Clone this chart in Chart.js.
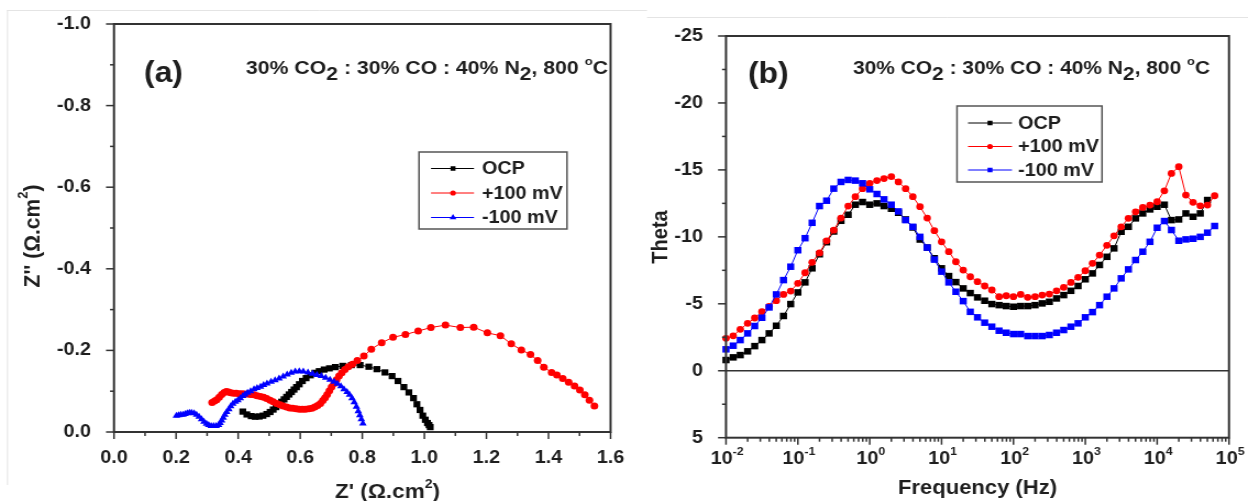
<!DOCTYPE html>
<html>
<head>
<meta charset="utf-8">
<title>Impedance at 800 C</title>
<script src="https://cdn.jsdelivr.net/npm/chart.js@4.4.1/dist/chart.umd.min.js"></script>
<style>
  html, body { margin: 0; padding: 0; background: #fff; overflow: hidden; }
  #wrap { position: relative; width: 1248px; height: 501px; }
  #wrap canvas { position: absolute; top: 0; }
</style>
</head>
<body>
<div id="wrap">
  <canvas id="nyquist" width="575" height="501" style="left:0;width:632px;height:501px"></canvas>
  <canvas id="bode" width="560" height="501" style="left:632px;width:616px;height:501px"></canvas>
</div>
<script>
// ---- panel (a): Nyquist, Z' and Z'' in ohm.cm2 ----
const nyqOcpRe = [0.415, 0.428, 0.442, 0.455, 0.468, 0.48, 0.492, 0.503, 0.513, 0.522,
  0.531, 0.54, 0.548, 0.556, 0.564, 0.572, 0.58, 0.588, 0.597, 0.607,
  0.619, 0.633, 0.647, 0.661, 0.677, 0.694, 0.713, 0.737, 0.765, 0.793,
  0.821, 0.847, 0.873, 0.896, 0.915, 0.934, 0.95, 0.965, 0.976, 0.986,
  0.995, 1.003, 1.01, 1.015, 1.019];
const nyqOcpIm = [-0.05, -0.043, -0.039, -0.0375, -0.038, -0.04, -0.044, -0.049, -0.055, -0.061,
  -0.068, -0.074, -0.08, -0.086, -0.092, -0.098, -0.104, -0.11, -0.117, -0.125,
  -0.132, -0.139, -0.145, -0.149, -0.153, -0.156, -0.159, -0.162, -0.164, -0.164,
  -0.16, -0.154, -0.146, -0.137, -0.125, -0.11, -0.097, -0.083, -0.068, -0.054,
  -0.04, -0.03, -0.022, -0.017, -0.012];

const nyqPosRe = [0.316, 0.324, 0.331, 0.339, 0.347, 0.355, 0.362, 0.369, 0.376, 0.385,
  0.394, 0.403, 0.412, 0.42, 0.43, 0.44, 0.451, 0.461, 0.472, 0.482,
  0.492, 0.503, 0.513, 0.524, 0.535, 0.545, 0.556, 0.566, 0.576, 0.587,
  0.597, 0.607, 0.617, 0.628, 0.638, 0.647, 0.656, 0.665, 0.673, 0.68,
  0.687, 0.694, 0.701, 0.709, 0.717, 0.725, 0.734, 0.744, 0.755, 0.768,
  0.784, 0.805, 0.829, 0.8625, 0.899, 0.939, 0.98, 1.021, 1.068, 1.116,
  1.159, 1.203, 1.245, 1.28, 1.3125, 1.342, 1.365, 1.385, 1.41, 1.427,
  1.446, 1.465, 1.484, 1.501, 1.517, 1.532, 1.548];
const nyqPosIm = [-0.072, -0.076, -0.079, -0.085, -0.092, -0.097, -0.099, -0.098, -0.096, -0.095,
  -0.095, -0.094, -0.094, -0.093, -0.093, -0.092, -0.091, -0.089, -0.087, -0.085,
  -0.082, -0.078, -0.074, -0.07, -0.067, -0.064, -0.061, -0.059, -0.058, -0.057,
  -0.056, -0.056, -0.056, -0.057, -0.058, -0.061, -0.065, -0.07, -0.077, -0.084,
  -0.092, -0.101, -0.11, -0.119, -0.128, -0.137, -0.145, -0.153, -0.16, -0.166,
  -0.175, -0.186, -0.203, -0.219, -0.232, -0.239, -0.2475, -0.256, -0.262, -0.256,
  -0.257, -0.243, -0.236, -0.216, -0.201, -0.19, -0.175, -0.159, -0.146, -0.14,
  -0.131, -0.122, -0.113, -0.103, -0.091, -0.078, -0.064];

const nyqNegRe = [0.201, 0.208, 0.215, 0.222, 0.229, 0.236, 0.243, 0.25, 0.258, 0.266,
  0.274, 0.282, 0.29, 0.298, 0.305, 0.313, 0.321, 0.329, 0.337, 0.342,
  0.347, 0.352, 0.357, 0.363, 0.37, 0.376, 0.383, 0.391, 0.399, 0.407,
  0.415, 0.422, 0.43, 0.44, 0.451, 0.461, 0.472, 0.482, 0.493, 0.506,
  0.519, 0.532, 0.545, 0.558, 0.571, 0.584, 0.597, 0.61, 0.625, 0.64,
  0.654, 0.668, 0.682, 0.696, 0.709, 0.72, 0.731, 0.741, 0.751, 0.759,
  0.767, 0.774, 0.781, 0.787, 0.792, 0.797, 0.802];
const nyqNegIm = [-0.04, -0.041, -0.042, -0.042, -0.044, -0.046, -0.047, -0.047, -0.046, -0.042,
  -0.0375, -0.031, -0.025, -0.02, -0.017, -0.015, -0.015, -0.015, -0.017, -0.022,
  -0.028, -0.035, -0.042, -0.049, -0.056, -0.063, -0.069, -0.074, -0.078, -0.083,
  -0.088, -0.092, -0.096, -0.1, -0.105, -0.108, -0.111, -0.115, -0.119, -0.123,
  -0.127, -0.131, -0.136, -0.141, -0.145, -0.148, -0.149, -0.148, -0.146, -0.143,
  -0.14, -0.137, -0.133, -0.128, -0.123, -0.118, -0.112, -0.105, -0.098, -0.091,
  -0.083, -0.073, -0.062, -0.051, -0.041, -0.031, -0.021];

// ---- panel (b): phase angle vs frequency ----
const freqHz = [0.01, 0.0126, 0.0158, 0.02, 0.0251, 0.0316, 0.0398, 0.0501, 0.0631, 0.0794,
  0.1, 0.126, 0.158, 0.2, 0.251, 0.316, 0.398, 0.501, 0.631, 0.794,
  1, 1.26, 1.58, 2, 2.51, 3.16, 3.98, 5.01, 6.31, 7.94,
  10, 12.6, 15.8, 20, 25.1, 31.6, 39.8, 50.1, 63.1, 79.4,
  100, 126, 158, 200, 251, 316, 398, 501, 631, 794,
  1000, 1260, 1580, 2000, 2510, 3160, 3980, 5010, 6310, 7940,
  10000, 12600, 15800, 20000, 25100, 31600, 39800, 50100, 63100];
const thetaOcp = [-0.8, -1.0, -1.17, -1.45, -1.84, -2.29, -2.79, -3.36, -4.09, -4.98,
  -5.85, -6.6, -7.65, -8.7, -9.6, -10.4, -11.2, -11.65, -12.4, -12.6,
  -12.4, -12.5, -12.3, -12.1, -11.8, -11.3, -10.7, -9.8, -9.2, -8.4,
  -7.65, -7.07, -6.62, -6.15, -5.8, -5.48, -5.23, -4.98, -4.9, -4.83,
  -4.78, -4.83, -4.83, -4.9, -5.03, -5.15, -5.4, -5.65, -5.97, -6.33,
  -6.83, -7.27, -7.9, -8.51, -9.14, -10.38, -10.75, -11.38, -11.75, -12.05,
  -12.25, -12.4, -11.25, -11.3, -11.75, -11.5, -11.75, -12.75];
const thetaPos = [-2.42, -2.61, -3.09, -3.54, -3.94, -4.41, -4.8, -5.23, -5.7, -5.95,
  -6.53, -7.32, -8.1, -8.8, -9.7, -10.5, -11.4, -12.3, -13.0, -13.6,
  -14.0, -14.2, -14.35, -14.5, -14.1, -13.6, -13.0, -12.25, -11.4, -10.46,
  -9.63, -8.89, -8.14, -7.52, -7.02, -6.65, -6.33, -6.03, -5.53, -5.6,
  -5.53, -5.7, -5.48, -5.53, -5.65, -5.73, -5.97, -6.23, -6.6, -6.98,
  -7.47, -8.02, -8.64, -9.37, -10.08, -10.75, -11.38, -11.87, -12.2, -12.37,
  -12.62, -13.44, -14.74, -15.24, -13.12, -12.58, -12.32, -12.37, -13.07];
const thetaNeg = [-1.6, -1.87, -2.29, -2.79, -3.34, -3.96, -4.73, -5.7, -6.77, -7.77,
  -9.0, -9.9, -11.05, -12.3, -12.7, -13.6, -14.1, -14.25, -14.2, -14.0,
  -13.55, -13.2, -12.8, -12.4, -11.9, -11.25, -10.75, -10.0, -9.2, -8.3,
  -7.4, -6.6, -5.9, -5.2, -4.4, -3.99, -3.59, -3.29, -2.99, -2.84,
  -2.74, -2.74, -2.59, -2.59, -2.59, -2.67, -2.84, -3.04, -3.29, -3.54,
  -3.99, -4.38, -4.9, -5.53, -6.15, -6.9, -7.57, -8.27, -8.89, -9.63,
  -10.68, -11.18, -10.51, -9.71, -9.81, -9.86, -10.0, -10.31, -10.81];

const seriesNames = ['OCP', '+100 mV', '-100 mV'];
const freqTickExp = [-2, -1, 0, 1, 2, 3, 4, 5];

const BLACK = '#000000', RED = '#ff0000', BLUE = '#0000ff';
const INK = '#1e1e1e', AXIS = '#333333';
const FAMILY = '"Liberation Sans", Arial, Helvetica, sans-serif';
const SXA = 632 / 575;   // canvases are stretched sideways like the source figure
const SXB = 616 / 560;

// gas composition line, drawn as text runs (sub/superscripts)
const gasText = [
  { t: '30% CO' }, { t: '2', sub: true }, { t: ' : 30% CO : 40% N' }, { t: '2', sub: true },
  { t: ', 800 ' }, { t: 'o', sup: true }, { t: 'C' }
];

function font(size, weight) { return (weight || 'bold') + ' ' + size + 'px ' + FAMILY; }

function runsWidth(ctx, runs, size) {
  let w = 0;
  runs.forEach(r => { ctx.font = font(r.sup ? size * 0.62 : size); w += ctx.measureText(r.t).width; });
  return w;
}

function drawRuns(ctx, runs, x, y, size) {
  ctx.textAlign = 'left';
  ctx.textBaseline = 'alphabetic';
  runs.forEach(r => {
    ctx.font = font(r.sup ? size * 0.62 : size);
    const dy = r.sub ? size * 0.33 : (r.sup ? -size * 0.52 : 0);
    ctx.fillText(r.t, x, y + dy);
    x += ctx.measureText(r.t).width;
  });
}

// fit text runs between x0 and x1 (canvas px)
function drawRunsFit(ctx, runs, x0, x1, y, size) {
  const k = (x1 - x0) / runsWidth(ctx, runs, size);
  ctx.save();
  ctx.translate(x0, y);
  ctx.scale(k, 1);
  drawRuns(ctx, runs, 0, 0, size);
  ctx.restore();
}

function drawVertical(ctx, runs, cx, cy, size) {
  const w = runsWidth(ctx, runs, size);
  ctx.save();
  ctx.translate(cx, cy);
  ctx.rotate(-Math.PI / 2);
  drawRuns(ctx, runs, -w / 2, size * 0.36, size);
  ctx.restore();
}

function line(ctx, x0, y0, x1, y1) {
  ctx.beginPath(); ctx.moveTo(x0, y0); ctx.lineTo(x1, y1); ctx.stroke();
}

function marker(ctx, style, x, y, r, color) {
  ctx.fillStyle = color;
  if (Chart.helpers && Chart.helpers.drawPoint) {
    Chart.helpers.drawPoint(ctx, { pointStyle: style, radius: r, rotation: 0, borderWidth: 0 }, x, y);
  } else {
    ctx.beginPath(); ctx.arc(x, y, r, 0, Math.PI * 2); ctx.fill();
  }
}

// legend box, all positions in page px
function drawLegend(ctx, sx, box, rows) {
  ctx.strokeStyle = '#555'; ctx.lineWidth = 1.5;
  ctx.strokeRect(box.x0 / sx, box.y0, (box.x1 - box.x0) / sx, box.y1 - box.y0);
  rows.forEach((r, i) => {
    const y = box.rowY[i];
    ctx.strokeStyle = r.color; ctx.lineWidth = 1;
    line(ctx, box.lx0 / sx, y, box.lx1 / sx, y);
    marker(ctx, r.style, box.mx / sx, y, r.size, r.color);
    ctx.fillStyle = INK;
    ctx.font = font(18);
    ctx.textAlign = 'left';
    ctx.textBaseline = 'middle';
    ctx.fillText(r.label, box.tx / sx, y + 1);
  });
}

function drawFrameTicks(chart, sx, xMaj, xMin, yMaj, yMin) {
  const { ctx, chartArea: a, scales: { x, y } } = chart;
  ctx.strokeStyle = AXIS;
  ctx.lineWidth = 2;
  ctx.strokeRect(a.left, a.top, a.right - a.left, a.bottom - a.top);
  ctx.lineWidth = 1.5;
  yMaj.forEach(v => { const p = y.getPixelForValue(v); line(ctx, a.left, p, a.left - 8 / sx, p); });
  yMin.forEach(v => { const p = y.getPixelForValue(v); line(ctx, a.left, p, a.left - 4 / sx, p); });
  xMaj.forEach(v => { const p = x.getPixelForValue(v); line(ctx, p, a.bottom, p, a.bottom + 7); });
  xMin.forEach(v => { const p = x.getPixelForValue(v); line(ctx, p, a.bottom, p, a.bottom + 4); });
}

function midpoints(ticks) {
  const out = [];
  for (let i = 0; i < ticks.length - 1; i++) out.push((ticks[i].value + ticks[i + 1].value) / 2);
  return out;
}

function series(label, xs, ys, color, style, r) {
  return {
    label: label,
    data: xs.map((v, i) => ({ x: v, y: ys[i] })).filter(p => p.y !== undefined),
    showLine: true,
    borderColor: color,
    borderWidth: 1,
    tension: 0,
    pointStyle: style,
    pointRadius: r,
    pointBackgroundColor: color,
    pointBorderWidth: 0,
    clip: false
  };
}

const tickFont = { family: FAMILY, size: 18, weight: 'bold' };

// faint border lines of the original scan
function scanLines(ctx, segs) {
  ctx.strokeStyle = '#e4e4e4'; ctx.lineWidth = 1;
  segs.forEach(s => line(ctx, s[0], s[1], s[2], s[3]));
}

const decoA = {
  id: 'decoA',
  afterDraw(chart) {
    const { ctx, scales: { x, y } } = chart;
    ctx.save();
    scanLines(ctx, [[7 / SXA, 10.5, 575, 10.5], [7.5 / SXA, 10, 7.5 / SXA, 485]]);
    drawFrameTicks(chart, SXA, x.ticks.map(t => t.value), midpoints(x.ticks),
      y.ticks.map(t => t.value), midpoints(y.ticks));

    ctx.fillStyle = INK;
    ctx.font = font(29);
    ctx.textAlign = 'left';
    ctx.textBaseline = 'middle';
    ctx.fillText('(a)', 144 / SXA, 74);
    drawRunsFit(ctx, gasText, 246 / SXA, 608 / SXA, 74, 18);

    drawVertical(ctx, [{ t: "Z'' (\u03A9.cm" }, { t: '2', sup: true }, { t: ')' }], 31 / SXA, 236, 21);
    drawRunsFit(ctx, [{ t: "Z' (\u03A9.cm" }, { t: '2', sup: true }, { t: ')' }], 335 / SXA, 440 / SXA, 498, 20);

    drawLegend(ctx, SXA,
      { x0: 419, y0: 152, x1: 567, y1: 229, lx0: 431, lx1: 474, mx: 453, tx: 482, rowY: [168.5, 193, 217.5] },
      [{ label: seriesNames[0], color: BLACK, style: 'rect', size: 3.2 },
       { label: seriesNames[1], color: RED, style: 'circle', size: 2.6 },
       { label: seriesNames[2], color: BLUE, style: 'triangle', size: 3.6 }]);
    ctx.restore();
  }
};

const decoB = {
  id: 'decoB',
  beforeDatasetsDraw(chart) {
    const { ctx, chartArea: a, scales: { y } } = chart;
    const p = y.getPixelForValue(0);
    ctx.save();
    ctx.strokeStyle = AXIS; ctx.lineWidth = 1.5;
    line(ctx, a.left, p, a.right, p);
    ctx.restore();
  },
  afterDraw(chart) {
    const { ctx, scales: { x, y } } = chart;
    ctx.save();
    scanLines(ctx, [[0, 10.5, 15 / SXB, 10.5], [15 / SXB, 17.5, 560, 17.5]]);
    const xMaj = freqTickExp.map(e => Math.pow(10, e));
    const xMin = [];
    freqTickExp.slice(0, -1).forEach(e => { for (let d = 2; d <= 9; d++) xMin.push(d * Math.pow(10, e)); });
    drawFrameTicks(chart, SXB, xMaj, xMin, y.ticks.map(t => t.value), midpoints(y.ticks));

    // decade labels 10^n
    ctx.fillStyle = INK;
    freqTickExp.forEach(e => {
      const runs = [{ t: '10' }, { t: String(e), sup: true }];
      const w = runsWidth(ctx, runs, 18);
      const px = x.getPixelForValue(Math.pow(10, e));
      drawRuns(ctx, runs, px - w / 2 + 1, 464, 18);
    });

    ctx.font = font(29);
    ctx.textAlign = 'left';
    ctx.textBaseline = 'middle';
    ctx.fillText('(b)', 116 / SXB, 75);
    drawRunsFit(ctx, gasText, 221 / SXB, 578 / SXB, 74, 18);

    drawVertical(ctx, [{ t: 'Theta' }], 27 / SXB, 237, 20);
    ctx.font = font(20);
    ctx.textAlign = 'center';
    ctx.textBaseline = 'alphabetic';
    ctx.fillText('Frequency (Hz)', 345.5 / SXB, 494);

    drawLegend(ctx, SXB,
      { x0: 325, y0: 106, x1: 470, y1: 182, lx0: 336, lx1: 380, mx: 358, tx: 386, rowY: [123, 146.5, 170] },
      [{ label: seriesNames[0], color: BLACK, style: 'rect', size: 3.2 },
       { label: seriesNames[1], color: RED, style: 'circle', size: 2.6 },
       { label: seriesNames[2], color: BLUE, style: 'rect', size: 3.2 }]);
    ctx.restore();
  }
};

// dataset 0 is drawn last (on top)
new Chart(document.getElementById('nyquist'), {
  type: 'scatter',
  data: {
    datasets: [
      series(seriesNames[2], nyqNegRe, nyqNegIm, BLUE, 'triangle', 4),
      series(seriesNames[1], nyqPosRe, nyqPosIm, RED, 'circle', 3.5),
      series(seriesNames[0], nyqOcpRe, nyqOcpIm, BLACK, 'rect', 4.4)
    ]
  },
  options: {
    responsive: false,
    animation: false,
    devicePixelRatio: 1,
    layout: { autoPadding: false, padding: { left: 0, top: 24, right: 575 - 624 / SXA, bottom: 0 } },
    plugins: { legend: { display: false }, tooltip: { enabled: false } },
    scales: {
      x: {
        type: 'linear', min: 0, max: 1.6,
        grid: { display: false }, border: { display: false },
        ticks: { stepSize: 0.2, padding: 7, color: INK, font: tickFont, maxRotation: 0,
                 callback: v => Number(v).toFixed(1) },
        afterFit: s => { s.height = 501 - 432; }
      },
      y: {
        type: 'linear', min: -1, max: 0, reverse: true,
        grid: { display: false }, border: { display: false },
        ticks: { stepSize: 0.2, padding: 13, color: INK, font: tickFont,
                 callback: v => Number(v).toFixed(1) },
        afterFit: s => { s.width = 114 / SXA; }
      }
    }
  },
  plugins: [decoA]
});

new Chart(document.getElementById('bode'), {
  type: 'scatter',
  data: {
    datasets: [
      series(seriesNames[2], freqHz, thetaNeg, BLUE, 'rect', 4.6),
      series(seriesNames[1], freqHz, thetaPos, RED, 'circle', 3.4),
      series(seriesNames[0], freqHz, thetaOcp, BLACK, 'rect', 4.6)
    ]
  },
  options: {
    responsive: false,
    animation: false,
    devicePixelRatio: 1,
    layout: { autoPadding: false, padding: { left: 0, top: 36, right: 560 - 597 / SXB, bottom: 0 } },
    plugins: { legend: { display: false }, tooltip: { enabled: false } },
    scales: {
      x: {
        type: 'logarithmic', min: 0.01, max: 100000,
        grid: { display: false }, border: { display: false },
        ticks: { display: false },
        afterFit: s => { s.height = 501 - 437.7; }
      },
      y: {
        type: 'linear', min: -25, max: 5, reverse: true,
        grid: { display: false }, border: { display: false },
        ticks: { stepSize: 5, padding: 13, color: INK, font: tickFont, callback: v => String(v) },
        afterFit: s => { s.width = 94 / SXB; }
      }
    }
  },
  plugins: [decoB]
});
</script>
</body>
</html>
